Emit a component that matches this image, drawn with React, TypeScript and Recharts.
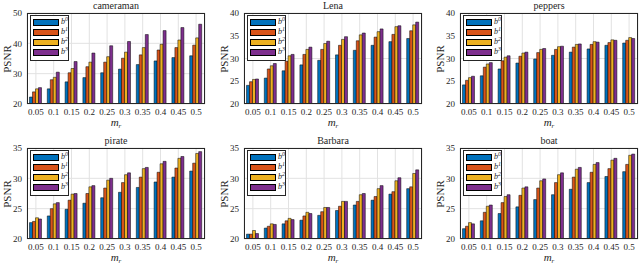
import { Bar, BarChart, CartesianGrid, Legend, XAxis, YAxis } from 'recharts'

const categories = ['0.05', '0.1', '0.15', '0.2', '0.25', '0.3', '0.35', '0.4', '0.45', '0.5']
const seriesKeys = ['b0', 'b1', 'b2', 'b3']
const seriesColors = ['#0072BD', '#D95319', '#EDB120', '#7E2F8E']

// PSNR per image, one row per b^k
const cameraman = [
  [22.3, 25.0, 27.3, 28.7, 30.3, 31.5, 33.0, 34.2, 35.3, 35.9],
  [24.0, 28.0, 30.3, 32.3, 33.8, 35.1, 36.2, 37.8, 38.6, 39.4],
  [25.0, 28.8, 31.7, 33.8, 35.6, 37.1, 38.6, 39.7, 41.1, 41.8],
  [25.4, 30.5, 34.0, 36.8, 39.2, 40.6, 42.9, 44.2, 45.2, 46.3],
]
const lena = [
  [24.1, 25.7, 27.3, 28.6, 29.6, 30.8, 31.8, 32.9, 33.7, 34.4],
  [24.9, 27.7, 29.4, 30.9, 32.0, 32.9, 33.9, 34.7, 35.3, 36.1],
  [25.4, 28.4, 30.6, 32.0, 33.3, 34.2, 35.2, 35.9, 37.0, 37.4],
  [25.5, 28.9, 30.9, 32.5, 33.8, 34.8, 35.6, 36.5, 37.2, 38.0],
]
const peppers = [
  [24.2, 26.2, 27.7, 29.0, 29.9, 30.7, 31.4, 32.1, 32.9, 33.4],
  [25.2, 28.1, 29.5, 30.5, 31.3, 32.0, 32.5, 33.1, 33.5, 34.0],
  [25.8, 28.8, 30.3, 31.2, 32.0, 32.6, 33.1, 33.7, 34.1, 34.6],
  [26.1, 29.1, 30.6, 31.4, 32.2, 32.7, 33.2, 33.6, 34.0, 34.4],
]
const pirate = [
  [22.7, 23.8, 24.9, 25.9, 26.8, 27.7, 28.5, 29.4, 30.2, 31.2],
  [22.9, 25.0, 26.4, 27.5, 28.4, 29.3, 30.2, 31.0, 31.7, 32.5],
  [23.5, 25.8, 27.4, 28.6, 29.7, 30.6, 31.6, 32.4, 33.3, 34.1],
  [23.3, 26.0, 27.5, 28.8, 30.0, 30.9, 31.8, 32.8, 33.6, 34.4],
]
const barbara = [
  [20.8, 21.8, 22.5, 23.1, 23.9, 24.7, 25.6, 26.4, 27.4, 28.3],
  [20.8, 22.1, 23.0, 23.8, 24.5, 25.4, 26.2, 27.0, 27.8, 28.6],
  [21.4, 22.5, 23.4, 24.4, 25.2, 26.2, 27.3, 28.3, 29.6, 30.8],
  [20.9, 22.4, 23.2, 24.2, 25.2, 26.2, 27.5, 28.8, 30.1, 31.4],
]
const boat = [
  [21.7, 23.0, 24.2, 25.3, 26.5, 27.3, 28.2, 29.3, 30.3, 31.1],
  [22.1, 24.4, 26.0, 27.2, 28.4, 29.3, 30.2, 31.0, 31.6, 32.3],
  [22.7, 25.4, 27.0, 28.4, 29.6, 30.6, 31.5, 32.3, 33.0, 33.8],
  [22.5, 25.6, 27.3, 28.6, 29.9, 30.9, 31.8, 32.6, 33.3, 34.0],
]

const ticks50 = [20, 30, 40, 50]
const ticks40 = [20, 25, 30, 35, 40]
const ticks35 = [20, 25, 30, 35]

const panels = [
  { title: 'cameraman', series: cameraman, ticks: ticks50, left: 27, top: 13 },
  { title: 'Lena', series: lena, ticks: ticks40, left: 244, top: 13 },
  { title: 'peppers', series: peppers, ticks: ticks40, left: 460, top: 13 },
  { title: 'pirate', series: pirate, ticks: ticks35, left: 27, top: 148 },
  { title: 'Barbara', series: barbara, ticks: ticks35, left: 244, top: 148 },
  { title: 'boat', series: boat, ticks: ticks35, left: 460, top: 148 },
]

const serif = "'Liberation Serif', 'DejaVu Serif', serif"
const ink = '#262626'
const axisW = 27
const plotW = 178
const plotH = 91
const topPad = 13

function LegendBox({ payload }: { payload?: { value?: string; color?: string }[] }) {
  return (
    <div style={{ background: '#fff', border: `0.8px solid ${ink}`, padding: '1px 0 3px 0', fontFamily: serif }}>
      {(payload ?? []).map((entry, i) => (
        <div key={String(entry.value)} style={{ display: 'flex', alignItems: 'center', height: 10 }}>
          <span style={{ width: 26, height: 7, marginLeft: 2, background: entry.color, border: '0.6px solid #000', boxSizing: 'border-box' }} />
          <span style={{ fontSize: 8, fontStyle: 'italic', color: ink, marginLeft: 2, lineHeight: '8px' }}>
            b<span style={{ fontSize: 6, position: 'relative', top: -3 }}>{i}</span>
          </span>
        </div>
      ))}
    </div>
  )
}

function Panel({ title, series, ticks, left, top }: { title: string; series: number[][]; ticks: number[]; left: number; top: number }) {
  const data = categories.map((mr, i) => ({
    mr,
    b0: series[0][i],
    b1: series[1][i],
    b2: series[2][i],
    b3: series[3][i],
  }))
  const w = axisW + plotW + 4
  const h = topPad + plotH + 30
  return (
    <div style={{ position: 'absolute', left: left - axisW, top: top - topPad, width: w, height: h }}>
      <BarChart width={w} height={h} data={data} margin={{ top: topPad, right: 4, left: 0, bottom: 0 }} barCategoryGap="14%" barGap={0}>
        <CartesianGrid stroke="#e2e2e2" />
        <XAxis
          dataKey="mr"
          height={30}
          interval={0}
          tickLine={false}
          axisLine={false}
          tickSize={2}
          tickMargin={3}
          tick={{ fontSize: 9, fill: ink, fontFamily: serif }}
        />
        <YAxis
          width={axisW}
          type="number"
          domain={[ticks[0], ticks[ticks.length - 1]]}
          ticks={ticks}
          allowDataOverflow
          tickLine={false}
          axisLine={false}
          tickSize={2}
          tickMargin={3}
          tick={{ fontSize: 9, fill: ink, fontFamily: serif }}
        />
        {seriesKeys.map((k, i) => (
          <Bar key={k} dataKey={k} fill={seriesColors[i]} stroke="#000" strokeWidth={0.5} isAnimationActive={false} />
        ))}
        <Legend
          layout="horizontal"
          verticalAlign="middle"
          align="center"
          wrapperStyle={{ top: topPad + 2, left: axisW + 3, width: 39 }}
          content={(props) => <LegendBox payload={props.payload as { value?: string; color?: string }[]} />}
        />
      </BarChart>
      <div style={{ position: 'absolute', left: axisW, top: topPad, width: plotW, height: plotH, border: `0.8px solid ${ink}`, boxSizing: 'border-box', pointerEvents: 'none' }} />
      <div style={{ position: 'absolute', left: axisW, top: 0, width: plotW, textAlign: 'center', fontSize: 10, lineHeight: '12px', color: ink, fontFamily: serif }}>
        {title}
      </div>
      <div style={{ position: 'absolute', left: 7, top: topPad + plotH / 2, transform: 'translate(-50%, -50%) rotate(-90deg)', fontSize: 11, color: ink, fontFamily: serif, whiteSpace: 'nowrap' }}>
        PSNR
      </div>
      <div style={{ position: 'absolute', left: axisW, top: topPad + plotH + 12, width: plotW, textAlign: 'center', fontSize: 11, lineHeight: '12px', color: ink, fontFamily: serif, fontStyle: 'italic' }}>
        m<span style={{ fontSize: 7, position: 'relative', top: 2 }}>r</span>
      </div>
    </div>
  )
}

export default function App() {
  return (
    <div style={{ position: 'fixed', left: 0, top: 0, width: 640, height: 264, background: '#fff', overflow: 'hidden' }}>
      {panels.map((p) => (
        <Panel key={p.title} {...p} />
      ))}
    </div>
  )
}
